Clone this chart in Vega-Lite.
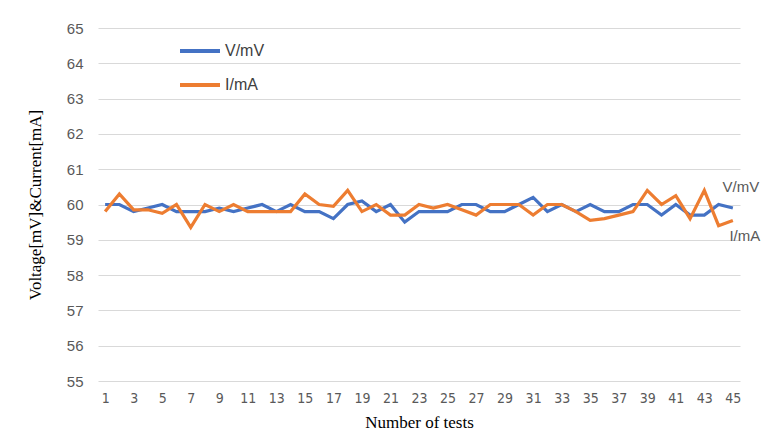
{
  "$schema": "https://vega.github.io/schema/vega-lite/v6.json",
  "width": 642,
  "height": 353,
  "autosize": {"type": "none"},
  "padding": {"left": 98, "top": 28, "right": 28, "bottom": 64},
  "background": "white",
  "config": {"view": {"stroke": null}},
  "data": {"values": [
    {"t":1,"V":60.0,"I":59.8},{"t":2,"V":60.0,"I":60.3},{"t":3,"V":59.8,"I":59.85},{"t":4,"V":59.9,"I":59.85},{"t":5,"V":60.0,"I":59.75},
    {"t":6,"V":59.8,"I":60.0},{"t":7,"V":59.8,"I":59.35},{"t":8,"V":59.8,"I":60.0},{"t":9,"V":59.9,"I":59.8},{"t":10,"V":59.8,"I":60.0},
    {"t":11,"V":59.9,"I":59.8},{"t":12,"V":60.0,"I":59.8},{"t":13,"V":59.8,"I":59.8},{"t":14,"V":60.0,"I":59.8},{"t":15,"V":59.8,"I":60.3},
    {"t":16,"V":59.8,"I":60.0},{"t":17,"V":59.6,"I":59.95},{"t":18,"V":60.0,"I":60.4},{"t":19,"V":60.1,"I":59.8},{"t":20,"V":59.8,"I":60.0},
    {"t":21,"V":60.0,"I":59.7},{"t":22,"V":59.5,"I":59.7},{"t":23,"V":59.8,"I":60.0},{"t":24,"V":59.8,"I":59.9},{"t":25,"V":59.8,"I":60.0},
    {"t":26,"V":60.0,"I":59.85},{"t":27,"V":60.0,"I":59.7},{"t":28,"V":59.8,"I":60.0},{"t":29,"V":59.8,"I":60.0},{"t":30,"V":60.0,"I":60.0},
    {"t":31,"V":60.2,"I":59.7},{"t":32,"V":59.8,"I":60.0},{"t":33,"V":60.0,"I":60.0},{"t":34,"V":59.8,"I":59.8},{"t":35,"V":60.0,"I":59.55},
    {"t":36,"V":59.8,"I":59.6},{"t":37,"V":59.8,"I":59.7},{"t":38,"V":60.0,"I":59.8},{"t":39,"V":60.0,"I":60.4},{"t":40,"V":59.7,"I":60.0},
    {"t":41,"V":60.0,"I":60.25},{"t":42,"V":59.7,"I":59.6},{"t":43,"V":59.7,"I":60.4},{"t":44,"V":60.0,"I":59.4},{"t":45,"V":59.9,"I":59.55}
  ]},
  "transform": [
    {"fold": ["V", "I"], "as": ["key", "value"]},
    {"calculate": "datum.key === 'V' ? 'V/mV' : 'I/mA'", "as": "series"}
  ],
  "encoding": {
    "x": {
      "field": "t", "type": "quantitative",
      "scale": {"domain": [0.5, 45.5], "nice": false, "zero": false},
      "axis": {
        "values": [1,3,5,7,9,11,13,15,17,19,21,23,25,27,29,31,33,35,37,39,41,43,45],
        "grid": false, "ticks": false, "domain": false,
        "labelFont": "DejaVu Sans Condensed", "labelFontSize": 14, "labelColor": "#595959",
        "labelPadding": 10,
        "title": "Number of tests", "titleFont": "Liberation Serif", "titleFontSize": 17,
        "titleFontWeight": "normal", "titleColor": "#000000", "titlePadding": 9
      }
    },
    "y": {
      "field": "value", "type": "quantitative",
      "scale": {"domain": [55, 65], "nice": false, "zero": false},
      "axis": {
        "values": [55,56,57,58,59,60,61,62,63,64,65],
        "grid": true, "gridColor": "#d9d9d9", "gridWidth": 1,
        "ticks": false, "domain": false,
        "labelFont": "Liberation Sans", "labelFontSize": 15, "labelColor": "#595959",
        "labelPadding": 15,
        "title": "Voltage[mV]&Current[mA]", "titleFont": "Liberation Serif", "titleFontSize": 17,
        "titleFontWeight": "normal", "titleColor": "#000000", "titlePadding": 22
      }
    },
    "color": {
      "field": "series", "type": "nominal",
      "scale": {"domain": ["V/mV", "I/mA"], "range": ["#4472C4", "#ED7D31"]},
      "legend": {
        "orient": "none", "legendX": 80, "legendY": 1,
        "title": null, "symbolType": "stroke", "symbolStrokeWidth": 4, "symbolSize": 1600,
        "labelFont": "Liberation Sans", "labelFontSize": 16, "labelColor": "#404040",
        "rowPadding": 4, "labelOffset": 3
      }
    }
  },
  "layer": [
    {"mark": {"type": "line", "strokeWidth": 3.2}},
    {
      "transform": [{"filter": "datum.t === 45 && datum.key === 'V'"}],
      "mark": {"type": "text", "fontSize": 15, "font": "Liberation Sans", "color": "#595959", "dx": 8, "dy": -21},
      "encoding": {"text": {"field": "series"}, "color": {"value": "#595959"}}
    },
    {
      "transform": [{"filter": "datum.t === 45 && datum.key === 'I'"}],
      "mark": {"type": "text", "fontSize": 15, "font": "Liberation Sans", "color": "#595959", "dx": 12, "dy": 16},
      "encoding": {"text": {"field": "series"}, "color": {"value": "#595959"}}
    }
  ]
}
